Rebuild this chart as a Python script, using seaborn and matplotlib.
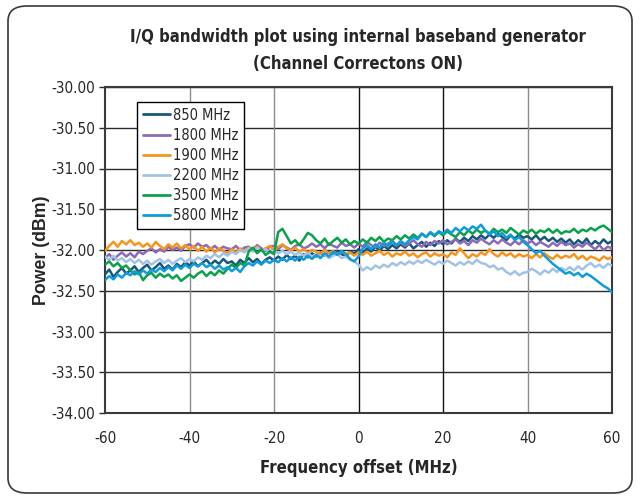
import numpy as np
import pandas as pd
import seaborn as sns
import matplotlib
matplotlib.use("Agg")
import matplotlib.pyplot as plt
from matplotlib.patches import FancyBboxPatch

freq = list(range(-60, 61))

p850 = [-32.30, -32.24, -32.33, -32.27, -32.22, -32.29, -32.25, -32.20, -32.27, -32.22,
        -32.18, -32.25, -32.21, -32.16, -32.23, -32.19, -32.24, -32.17, -32.21, -32.15,
        -32.19, -32.14, -32.20, -32.16, -32.12, -32.18, -32.13, -32.17, -32.11, -32.16,
        -32.14, -32.19, -32.12, -32.16, -32.10, -32.15, -32.11, -32.17, -32.12, -32.09,
        -32.13, -32.08, -32.12, -32.06, -32.11, -32.07, -32.13, -32.05, -32.09, -32.04,
        -32.08, -32.03, -32.07, -32.02, -32.06, -32.01, -32.05, -32.08, -32.02, -32.04,
        -31.99, -32.04, -31.98, -32.02, -31.96, -32.01, -31.95, -31.99, -31.94, -31.98,
        -31.93, -31.97, -31.92, -31.98, -31.94, -31.90, -31.96, -31.91, -31.95, -31.89,
        -31.93, -31.88, -31.92, -31.86, -31.90, -31.85, -31.89, -31.83, -31.87, -31.82,
        -31.86, -31.81, -31.85, -31.80, -31.84, -31.88, -31.82, -31.86, -31.81, -31.85,
        -31.83, -31.87, -31.82, -31.88, -31.84, -31.89, -31.85, -31.90, -31.86, -31.91,
        -31.87, -31.93, -31.88, -31.92, -31.86, -31.94, -31.89, -31.93, -31.87, -31.92,
        -31.89]

p1800 = [-32.10, -32.05, -32.12, -32.07, -32.03, -32.08, -32.04, -32.09, -32.02, -32.05,
         -32.01, -31.98, -32.03, -31.99, -32.02, -31.96, -32.00, -31.97, -32.01, -31.95,
         -31.93, -31.97, -31.92, -31.96, -31.94, -31.99, -31.95, -32.00, -31.96, -31.98,
         -31.99, -31.95, -32.01, -31.97, -31.96, -32.00, -31.94, -31.98, -32.01, -31.96,
         -31.95, -31.99, -31.94, -31.97, -32.00, -31.95, -31.93, -31.98, -31.96, -31.92,
         -31.96, -31.93, -31.98, -31.92, -31.95, -31.97, -31.91, -31.95, -31.93, -31.97,
         -31.92, -31.96, -31.90, -31.94, -31.97, -31.91, -31.95, -31.92, -31.89, -31.94,
         -31.91, -31.95, -31.92, -31.88, -31.93, -31.96, -31.90, -31.94, -31.89, -31.92,
         -31.88, -31.93, -31.90, -31.87, -31.92, -31.89, -31.94, -31.88, -31.91, -31.86,
         -31.90, -31.93, -31.88, -31.92, -31.87, -31.91, -31.94, -31.89, -31.93, -31.88,
         -31.92, -31.89, -31.94, -31.90, -31.93, -31.96, -31.91, -31.95, -31.90, -31.94,
         -31.92, -31.97, -31.93, -31.96, -31.91, -31.95, -31.99, -31.94, -32.00, -31.96,
         -31.98]

p1900 = [-32.01, -31.95, -31.90, -31.96, -31.89, -31.93, -31.88, -31.94, -31.91, -31.96,
         -31.92, -31.97, -31.90, -31.95, -31.99, -31.93, -31.97, -31.92, -31.98, -31.94,
         -31.99, -31.95, -32.01, -31.96, -32.02, -31.97, -32.03, -31.98, -32.01, -32.04,
         -31.99, -32.03, -31.98, -32.02, -31.97, -32.01, -31.96, -32.00, -31.98, -31.95,
         -32.00, -31.96, -31.93, -31.98, -32.01, -31.97, -32.02, -31.99, -32.03, -32.00,
         -32.02, -32.05, -32.00, -32.04, -32.01, -32.06, -32.02, -32.05, -32.03, -32.07,
         -32.03, -32.06, -32.02, -32.07, -32.04, -32.01, -32.06, -32.03, -32.08, -32.04,
         -32.06, -32.02, -32.07, -32.04, -32.09, -32.05, -32.03, -32.08, -32.04, -32.07,
         -32.05, -32.09, -32.03, -32.06, -31.98, -32.04, -32.10, -32.05, -32.08, -32.03,
         -32.06, -31.99, -32.05, -32.08, -32.03, -32.07, -32.04, -32.09, -32.05, -32.08,
         -32.06, -32.10, -32.05, -32.09, -32.04, -32.08, -32.11, -32.06, -32.10, -32.07,
         -32.09, -32.05, -32.11, -32.07, -32.12, -32.08, -32.10, -32.13, -32.08, -32.11,
         -32.09]

p2200 = [-32.08, -32.12, -32.07, -32.13, -32.10, -32.15, -32.11, -32.16, -32.12, -32.17,
         -32.13, -32.18, -32.14, -32.11, -32.16, -32.12, -32.17, -32.13, -32.10, -32.15,
         -32.11, -32.14, -32.09, -32.12, -32.07, -32.10, -32.05, -32.09, -32.04, -32.07,
         -32.02, -32.05, -32.00, -32.03, -31.98, -32.02, -31.97, -32.01, -31.99, -32.03,
         -32.00, -32.04, -32.01, -32.05, -32.02, -32.06, -32.03, -32.07, -32.04, -32.08,
         -32.05, -32.09, -32.06, -32.10, -32.07, -32.05, -32.10, -32.08, -32.12, -32.14,
         -32.18, -32.25, -32.21, -32.24, -32.19, -32.22, -32.18, -32.21, -32.16, -32.19,
         -32.15, -32.18, -32.14, -32.17, -32.13, -32.16, -32.12, -32.15, -32.18, -32.14,
         -32.17, -32.13, -32.16, -32.19, -32.15, -32.18, -32.14, -32.17, -32.12, -32.16,
         -32.17, -32.21, -32.19, -32.24, -32.22, -32.27, -32.30, -32.26, -32.31, -32.28,
         -32.27, -32.23, -32.26, -32.30, -32.25, -32.28, -32.23, -32.27, -32.22, -32.25,
         -32.21, -32.25, -32.20, -32.24, -32.19, -32.16, -32.21, -32.18, -32.22, -32.17,
         -32.19]

p3500 = [-32.18, -32.14, -32.20, -32.16, -32.22, -32.19, -32.25, -32.30, -32.27, -32.37,
         -32.31, -32.28, -32.34, -32.29, -32.33, -32.30, -32.35, -32.31, -32.38, -32.34,
         -32.30, -32.34, -32.29, -32.26, -32.32, -32.27, -32.31, -32.25, -32.29, -32.23,
         -32.18, -32.22, -32.16, -32.19, -32.02, -31.97, -32.04, -31.99, -32.06, -32.02,
         -32.05, -31.78, -31.74, -31.83, -31.92, -31.88, -31.94, -31.87, -31.79, -31.82,
         -31.88, -31.92, -31.86, -31.94, -31.89, -31.85, -31.91, -31.87, -31.93, -31.89,
         -31.92, -31.87, -31.91, -31.85, -31.89, -31.84, -31.90, -31.86, -31.88, -31.83,
         -31.87, -31.82, -31.86, -31.81, -31.85, -31.80, -31.84, -31.79, -31.83, -31.78,
         -31.82, -31.77, -31.81, -31.84, -31.78, -31.82, -31.76, -31.80, -31.75, -31.79,
         -31.76, -31.80, -31.74, -31.78, -31.75, -31.79, -31.73, -31.77, -31.81, -31.76,
         -31.79, -31.75, -31.80, -31.76, -31.78, -31.74, -31.79, -31.75, -31.80, -31.77,
         -31.78, -31.74, -31.79, -31.75, -31.77, -31.73, -31.76, -31.72, -31.70, -31.74,
         -31.78]

p5800 = [-32.37, -32.32, -32.36, -32.30, -32.34, -32.28, -32.31, -32.26, -32.30, -32.25,
         -32.29, -32.24, -32.27, -32.22, -32.26, -32.21, -32.25, -32.19, -32.23, -32.18,
         -32.22, -32.17, -32.20, -32.16, -32.21, -32.18, -32.23, -32.19, -32.24, -32.21,
         -32.26, -32.22, -32.27, -32.20, -32.16, -32.19, -32.14, -32.18, -32.13, -32.16,
         -32.12, -32.15, -32.10, -32.14, -32.09, -32.13, -32.08, -32.12, -32.07, -32.11,
         -32.06, -32.10, -32.04, -32.08, -32.02, -32.06, -32.01, -32.05, -32.11, -32.14,
         -32.08, -31.98, -31.94, -31.99, -31.93, -31.97, -31.91, -31.95, -31.90, -31.94,
         -31.89, -31.93, -31.88, -31.84, -31.87, -31.80, -31.84, -31.78, -31.82, -31.77,
         -31.80, -31.75, -31.79, -31.73, -31.77, -31.72, -31.76, -31.71, -31.74, -31.69,
         -31.76, -31.81, -31.77, -31.83, -31.79, -31.85, -31.81, -31.88, -31.84, -31.90,
         -31.94, -31.99, -32.04, -32.01, -32.07, -32.12, -32.17, -32.21, -32.25, -32.29,
         -32.27, -32.31, -32.28, -32.33, -32.29, -32.32, -32.36, -32.40, -32.44, -32.47,
         -32.52]

series_names = ["850 MHz", "1800 MHz", "1900 MHz", "2200 MHz", "3500 MHz", "5800 MHz"]
series_vals = [p850, p1800, p1900, p2200, p3500, p5800]
colors = ["#17587a", "#8b6bb6", "#f7941d", "#a2c3e6", "#0aa14b", "#0f9cdb"]

y_ticks = [-34.0, -33.5, -33.0, -32.5, -32.0, -31.5, -31.0, -30.5, -30.0]
x_ticks = [-60, -40, -20, 0, 20, 40, 60]

rows = []
for name, vals in zip(series_names, series_vals):
    for f, v in zip(freq, vals):
        rows.append({"freq": f, "power": v, "series": name})
df = pd.DataFrame(rows)

sns.set_style("white")
narrow = ["Liberation Sans Narrow", "DejaVu Sans"]
plt.rcParams["font.family"] = narrow
plt.rcParams["font.stretch"] = "condensed"

fig = plt.figure(figsize=(6.4, 4.99), dpi=100)
ax = fig.add_axes([105/640, 1-413/499, 507/640, 326/499])

# grid lines
for yv in y_ticks:
    ax.axhline(yv, color="#2a2a2a", lw=1.0, zorder=1)
for xv in x_ticks[1:-1]:
    c = "#111111" if xv in (0, 20) else "#8c8c8c"
    ax.axvline(xv, color=c, lw=1.0, zorder=1)

sns.lineplot(data=df, x="freq", y="power", hue="series", hue_order=series_names,
             palette=colors, lw=1.8, ax=ax, zorder=3)

ax.set_xlim(-60, 60)
ax.set_ylim(-34, -30)
ax.set_xticks(x_ticks)
ax.set_xticklabels([str(x) for x in x_ticks], fontsize=11)
ax.set_yticks(y_ticks)
ax.set_yticklabels([f"{y:.2f}" for y in y_ticks], fontsize=11)
ax.tick_params(axis="y", length=4, width=1, color="#2a2a2a", pad=3, left=True)
ax.tick_params(axis="x", length=0, pad=13)
for s in ax.spines.values():
    s.set_color("#3a3a3a")
    s.set_linewidth(1.5)

ax.set_xlabel("Frequency offset (MHz)", fontsize=12, fontweight="bold", labelpad=9)
ax.set_ylabel("Power (dBm)", fontsize=12.8, fontweight="bold",
              family=["Liberation Sans", "DejaVu Sans"], fontstretch="normal", labelpad=1)

leg = ax.legend(loc="upper left", bbox_to_anchor=(0.063, 0.955), borderaxespad=0,
                fontsize=10.5, frameon=True, fancybox=False, handlelength=1.9,
                handletextpad=0.15, labelspacing=0.35, borderpad=0.4)
leg.get_frame().set_edgecolor("black")
leg.get_frame().set_linewidth(1.0)
leg.get_frame().set_alpha(1)
for line in leg.get_lines():
    line.set_linewidth(2)

fig.text(358/640, 1-37/499, "I/Q bandwidth plot using internal baseband generator",
         ha="center", va="center", fontsize=12, fontweight="bold")
fig.text(358/640, 1-64/499, "(Channel Correctons ON)",
         ha="center", va="center", fontsize=12, fontweight="bold")

frame = FancyBboxPatch((8/640, 6/499), 624/640, 487/499,
                       boxstyle="round,pad=0,rounding_size=0.03",
                       transform=fig.transFigure, fill=False,
                       edgecolor="#3a3a3a", lw=1.2)
fig.patches.append(frame)

fig.savefig("out.png", dpi=100)
